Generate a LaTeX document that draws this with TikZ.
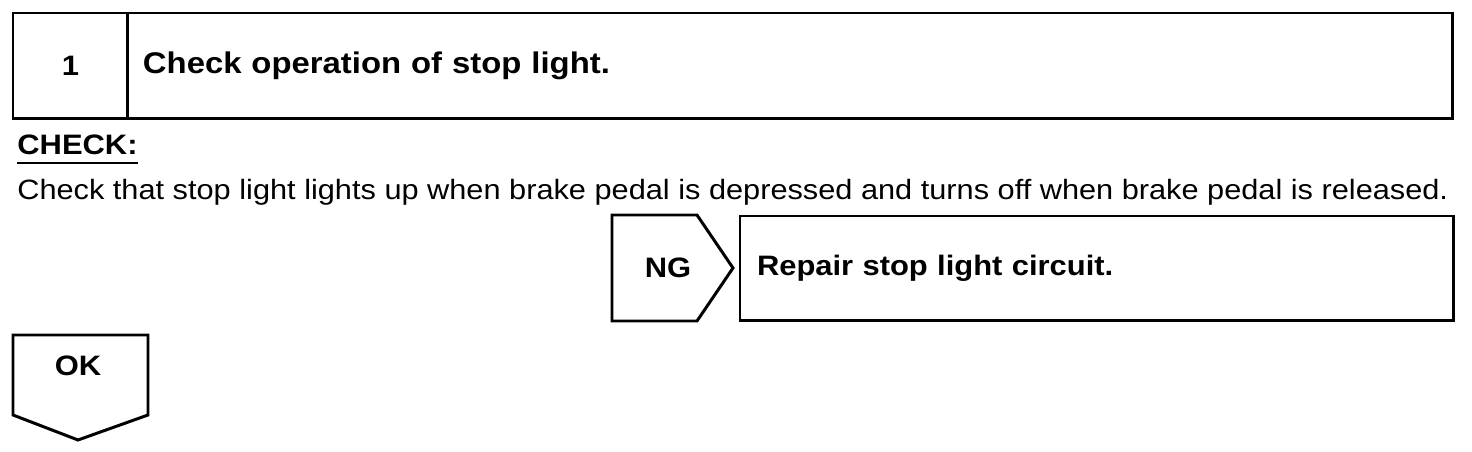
\documentclass[tikz,border=0pt]{standalone}
\usepackage{fontspec}
\setmainfont[FakeStretch=1.1]{Liberation Sans}
\usetikzlibrary{positioning}

\begin{document}
\begin{tikzpicture}[
    x=0.02cm, y=-0.02cm,
    frame/.style={rectangle, draw, line width=1.7pt, outer sep=0pt, minimum height=2.12cm},
    head/.style={font=\fontsize{16}{19}\selectfont\bfseries},
    plain/.style={font=\fontsize{15.9}{19}\selectfont, inner sep=0pt},
    arrowbox/.style={draw, line width=1.7pt, line join=miter}
]
\useasboundingbox (0,0) rectangle (1472,452);

% step header
\node[frame, head, anchor=north west, minimum width=2.3cm] (num) at (13,13) {1};
\node[frame, head, font=\fontsize{17}{20}\selectfont\bfseries, right=0pt of num, minimum width=26.5cm, text width=25.9cm, inner xsep=0.3cm, align=left] (title) {Check operation of stop light.};

% check text
\node[plain, font=\fontsize{16}{19}\selectfont\bfseries, anchor=base west] (chk) at (17,155) {CHECK:};
\draw[line width=1.3pt] (chk.base west) ++(0,8) coordinate (ul) -- (ul -| chk.east);
\node[plain, anchor=base west] (txt) at (17,200) {Check that stop light lights up when brake pedal is depressed and turns off when brake pedal is released.};

% NG branch
\draw[arrowbox] (612,215) -- (697,215) -- (733,268) -- (697,321) -- (612,321) -- cycle;
\node[head] (ng) at (668,268) {NG};
\node[frame, head, anchor=north west, minimum width=14.28cm, minimum height=2.1cm, text width=13.6cm, inner xsep=0.34cm, align=left] (repair) at (740,216) {Repair stop light circuit.};

% OK branch
\draw[arrowbox] (13,335) -- (148,335) -- (148,415) -- (78,440) -- (13,415) -- cycle;
\node[head] (ok) at (78,366) {OK};

\end{tikzpicture}
\end{document}
